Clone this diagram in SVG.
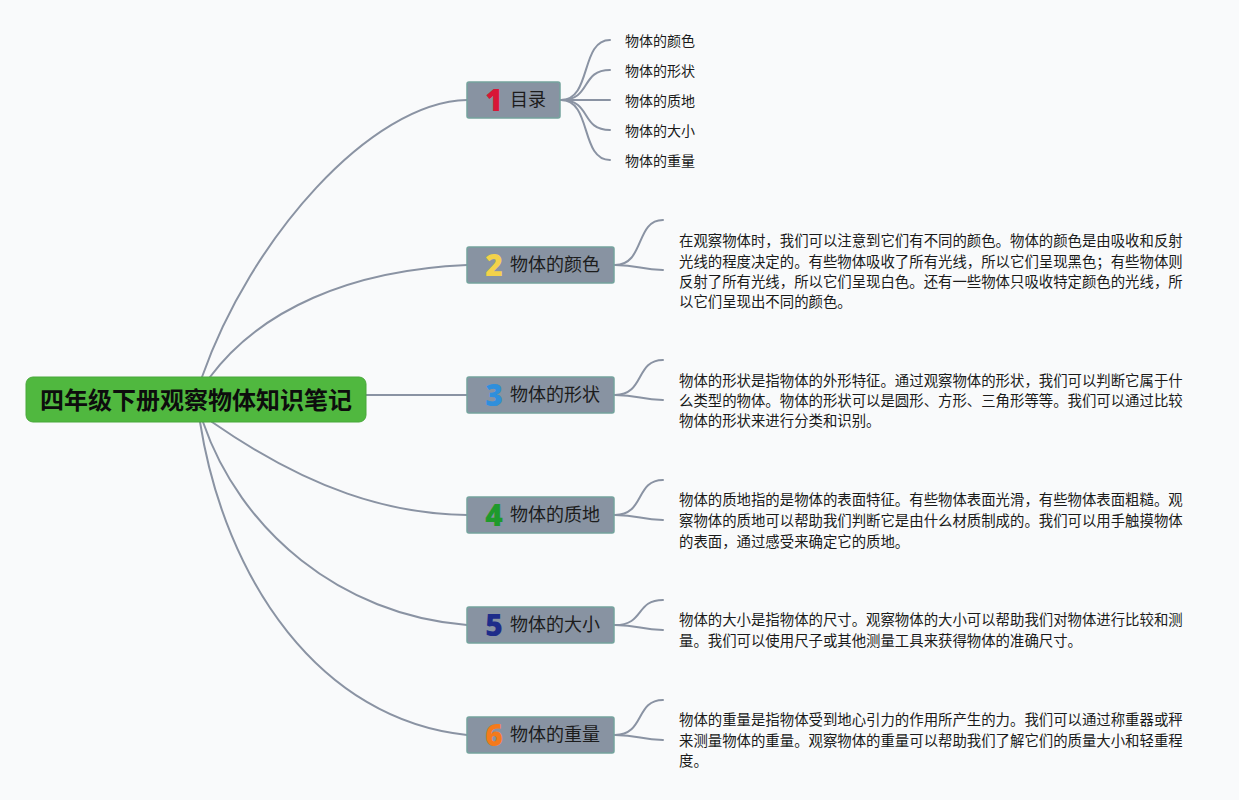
<svg xmlns="http://www.w3.org/2000/svg" width="1239" height="800" viewBox="0 0 1239 800">
<style>
.bg{fill:#f9fafb}
.ln{fill:none;stroke:#8a93a3;stroke-width:2;stroke-linecap:round}
.br{fill:#8893a2;stroke:#74a39d;stroke-width:1.5}
.lbl{font-family:"Noto Sans CJK SC","Noto Sans",sans-serif;font-size:18px;fill:#1c1c1c}
.num{font-family:"Noto Sans","DejaVu Sans",sans-serif;font-size:30px;font-weight:900;text-anchor:middle}
.sm{font-family:"Noto Sans CJK SC",sans-serif;font-size:14px;fill:#1a1a1a}
.tx{font-family:"Noto Sans CJK SC",sans-serif;font-size:14.4px;fill:#1a1a1a}
.root{font-family:"Noto Sans CJK SC",sans-serif;font-size:24px;font-weight:bold;fill:#0d0d0d;text-anchor:middle}
</style>
<rect class="bg" x="0" y="0" width="1239" height="800"/>
<g id="connectors">
<path class="ln" d="M202,377 C250,240 370,102 467,100"/>
<path class="ln" d="M210,377 C260,310 350,270 467,265"/>
<path class="ln" d="M366,395 L467,395"/>
<path class="ln" d="M212,422 C310,490 390,514 467,515"/>
<path class="ln" d="M203,422 C240,530 340,615 467,625"/>
<path class="ln" d="M200,422 C225,580 320,720 467,735"/>
<path class="ln" d="M561,100 C592,100 580,40 610,40"/>
<path class="ln" d="M561,100 C592,100 580,70 610,70"/>
<path class="ln" d="M561,100 L610,100"/>
<path class="ln" d="M561,100 C592,100 580,130 610,130"/>
<path class="ln" d="M561,100 C592,100 580,160 610,160"/>
<path class="ln" d="M615,265 C645,265 635,220 663,220"/>
<path class="ln" d="M615,265 C640,265 640,270 663,270"/>
<path class="ln" d="M615,395 C645,395 635,360 663,360"/>
<path class="ln" d="M615,395 C640,395 640,400 663,400"/>
<path class="ln" d="M615,515 C645,515 635,480 663,480"/>
<path class="ln" d="M615,515 C640,515 640,520 663,520"/>
<path class="ln" d="M615,625 C645,625 635,600 663,600"/>
<path class="ln" d="M615,625 C640,625 640,630 663,630"/>
<path class="ln" d="M615,735 C645,735 635,700 663,700"/>
<path class="ln" d="M615,735 C640,735 640,740 663,740"/>
</g>
<g id="root">
<rect x="26" y="377" width="340" height="45" rx="7" fill="#50b83f" stroke="#48a83a" stroke-width="1"/>
<text class="root" x="196" y="409">四年级下册观察物体知识笔记</text>
</g>
<g id="node1">
<rect class="br" x="467" y="82" width="93" height="36" rx="2"/>
<text class="num" x="494" y="111" fill="#d81636">1</text>
<text class="lbl" x="510" y="106">目录</text>
</g>
<g id="node1-children">
<text class="sm" x="625" y="46">物体的颜色</text>
<text class="sm" x="625" y="76">物体的形状</text>
<text class="sm" x="625" y="106">物体的质地</text>
<text class="sm" x="625" y="136">物体的大小</text>
<text class="sm" x="625" y="166">物体的重量</text>
</g>
<g id="node2">
<rect class="br" x="467" y="247" width="147" height="36" rx="2"/>
<text class="num" x="494" y="276" fill="#f3d24a">2</text>
<text class="lbl" x="510" y="271">物体的颜色</text>
</g>
<g id="note2">
<text class="tx" x="679" y="246">在观察物体时，我们可以注意到它们有不同的颜色。物体的颜色是由吸收和反射</text>
<text class="tx" x="679" y="267">光线的程度决定的。有些物体吸收了所有光线，所以它们呈现黑色；有些物体则</text>
<text class="tx" x="679" y="287">反射了所有光线，所以它们呈现白色。还有一些物体只吸收特定颜色的光线，所</text>
<text class="tx" x="679" y="307">以它们呈现出不同的颜色。</text>
</g>
<g id="node3">
<rect class="br" x="467" y="377" width="147" height="36" rx="2"/>
<text class="num" x="494" y="406" fill="#2f8fdc">3</text>
<text class="lbl" x="510" y="401">物体的形状</text>
</g>
<g id="note3">
<text class="tx" x="679" y="386">物体的形状是指物体的外形特征。通过观察物体的形状，我们可以判断它属于什</text>
<text class="tx" x="679" y="406">么类型的物体。物体的形状可以是圆形、方形、三角形等等。我们可以通过比较</text>
<text class="tx" x="679" y="426">物体的形状来进行分类和识别。</text>
</g>
<g id="node4">
<rect class="br" x="467" y="497" width="147" height="36" rx="2"/>
<text class="num" x="494" y="526" fill="#1f9a2c">4</text>
<text class="lbl" x="510" y="521">物体的质地</text>
</g>
<g id="note4">
<text class="tx" x="679" y="505">物体的质地指的是物体的表面特征。有些物体表面光滑，有些物体表面粗糙。观</text>
<text class="tx" x="679" y="526">察物体的质地可以帮助我们判断它是由什么材质制成的。我们可以用手触摸物体</text>
<text class="tx" x="679" y="547">的表面，通过感受来确定它的质地。</text>
</g>
<g id="node5">
<rect class="br" x="467" y="607" width="147" height="36" rx="2"/>
<text class="num" x="494" y="636" fill="#1e2c8a">5</text>
<text class="lbl" x="510" y="631">物体的大小</text>
</g>
<g id="note5">
<text class="tx" x="679" y="625">物体的大小是指物体的尺寸。观察物体的大小可以帮助我们对物体进行比较和测</text>
<text class="tx" x="679" y="646">量。我们可以使用尺子或其他测量工具来获得物体的准确尺寸。</text>
</g>
<g id="node6">
<rect class="br" x="467" y="717" width="147" height="36" rx="2"/>
<text class="num" x="494" y="746" fill="#f47a1c">6</text>
<text class="lbl" x="510" y="741">物体的重量</text>
</g>
<g id="note6">
<text class="tx" x="679" y="725">物体的重量是指物体受到地心引力的作用所产生的力。我们可以通过称重器或秤</text>
<text class="tx" x="679" y="746">来测量物体的重量。观察物体的重量可以帮助我们了解它们的质量大小和轻重程</text>
<text class="tx" x="679" y="766">度。</text>
</g>
</svg>
